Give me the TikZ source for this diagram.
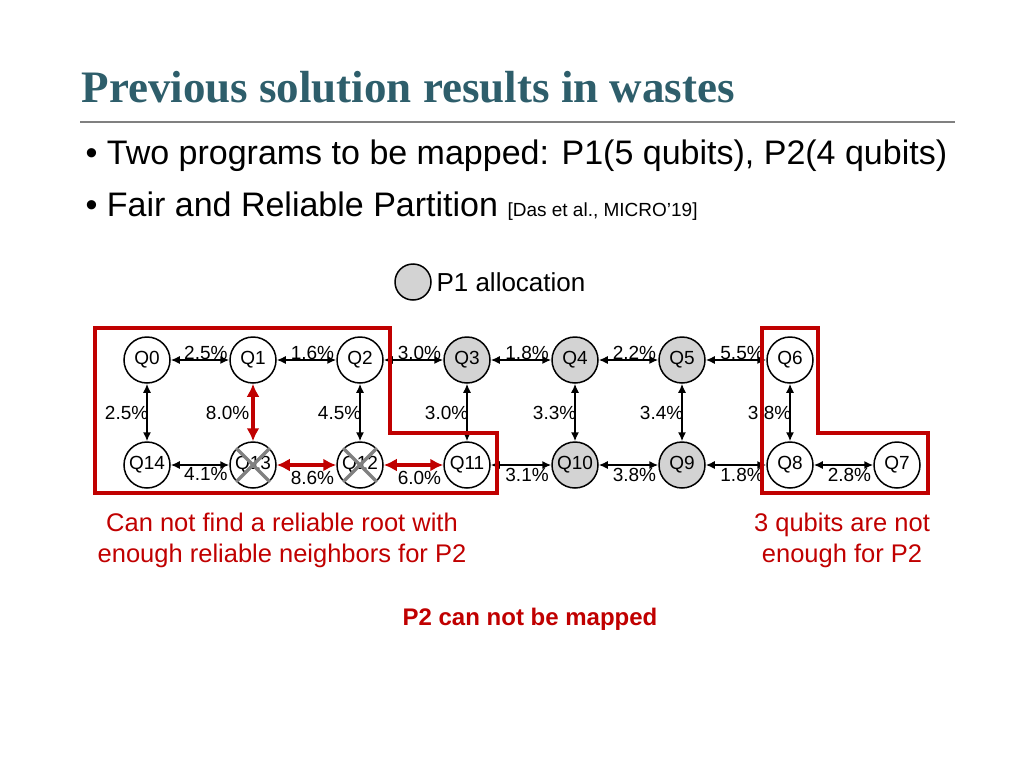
\documentclass[tikz,border=0pt]{standalone}
\usepackage{fontspec}
\setmainfont{Liberation Sans}
\newfontfamily\titlefont{Liberation Serif}
\usetikzlibrary{arrows.meta}
\definecolor{ttl}{HTML}{2E5E6B}
\definecolor{dred}{HTML}{C00000}
\definecolor{gfill}{HTML}{D3D3D3}
\begin{document}
\begin{tikzpicture}[x=1pt,y=-1pt,
  q/.style={circle,draw,line width=1.5pt,minimum size=46pt,inner sep=0pt,font=\fontsize{19}{19}\selectfont},
  g/.style={q,fill=gfill},
  e/.style={{Latex[length=9pt,width=8pt]}-{Latex[length=9pt,width=8pt]},line width=1.5pt},
  r/.style={{Latex[length=13pt,width=13pt]}-{Latex[length=13pt,width=13pt]},line width=3.5pt,dred},
  lb/.style={font=\fontsize{19}{19}\selectfont,inner sep=1pt},
  box/.style={dred,line width=3.5pt}]
\useasboundingbox (0,0) rectangle (1024,768);
\node[anchor=west,font=\titlefont\bfseries\fontsize{45}{45}\selectfont,text=ttl] (title) at (78,87) {Previous solution results in wastes};
\draw[gray,line width=2.5pt] (80,122) -- (955,122);
\node[anchor=west,font=\fontsize{34}{34}\selectfont] (b1) at (82,156) {\textbullet\ Two programs to be mapped: P1(5 qubits), P2(4 qubits)};
\node[anchor=west,font=\fontsize{34}{34}\selectfont] (b2) at (82,206) {\textbullet\ Fair and Reliable Partition {\fontsize{19}{19}\selectfont [Das et al., MICRO'19]}};
\node[circle,draw,fill=gfill,line width=1.5pt,minimum size=36pt] (leg) at (413,282) {};
\node[anchor=west,font=\fontsize{26}{26}\selectfont] (legt) at (433,282) {P1 allocation};
\foreach \n/\x in {0/147,1/253,2/360,6/790}{\node[q] (Q\n) at (\x,360) {Q\n};}
\foreach \n/\x in {3/467,4/575,5/682}{\node[g] (Q\n) at (\x,360) {Q\n};}
\foreach \n/\x in {14/147,13/253,12/360,11/467,8/790,7/897}{\node[q] (Q\n) at (\x,465) {Q\n};}
\foreach \n/\x in {10/575,9/682}{\node[g] (Q\n) at (\x,465) {Q\n};}
\foreach \n in {13,12}{\draw[gray,line width=3.5pt] (Q\n.north west)--(Q\n.south east) (Q\n.north east)--(Q\n.south west);}
\foreach \a/\b/\t in {0/1/2.5,1/2/1.6,2/3/3.0,3/4/1.8,4/5/2.2,5/6/5.5}{
  \draw[e] (Q\a) -- node[lb,pos=0.6,above=-1pt] {\t\%} (Q\b);}
\foreach \a/\b/\t in {11/10/3.1,10/9/3.8,9/8/1.8,8/7/2.8}{
  \draw[e] (Q\a) -- node[lb,pos=0.6,below=1pt] {\t\%} (Q\b);}
\draw[e] (Q14) -- node[lb,pos=0.6,below=1pt] {4.1\%} (Q13);
\draw[r] (Q13) -- node[lb,text=black,pos=0.6,below=3pt] {8.6\%} (Q12);
\draw[r] (Q12) -- node[lb,text=black,pos=0.6,below=3pt] {6.0\%} (Q11);
\foreach \a/\b/\t in {0/14/2.5,2/12/4.5,3/11/3.0,4/10/3.3,5/9/3.4,6/8/3.8}{
  \draw[e] (Q\a) -- node[lb,left=-3pt] {\t\%} (Q\b);}
\draw[r] (Q1) -- node[lb,text=black,left=1pt] {8.0\%} (Q13);
\draw[box] (95,328) -- (390,328) -- (390,433) -- (497,433) -- (497,493) -- (95,493) -- cycle;
\draw[box] (762,328) -- (818,328) -- (818,433) -- (928,433) -- (928,493) -- (762,493) -- cycle;
\node[align=center,text=dred,font=\fontsize{25.5}{31}\selectfont] (c1) at (282,540) {Can not find a reliable root with\\enough reliable neighbors for P2};
\node[align=center,text=dred,font=\fontsize{25.5}{31}\selectfont] (c2) at (842,540) {3 qubits are not\\enough for P2};
\node[text=dred,font=\bfseries\fontsize{24}{24}\selectfont] (c3) at (530,619) {P2 can not be mapped};
\end{tikzpicture}
\end{document}
